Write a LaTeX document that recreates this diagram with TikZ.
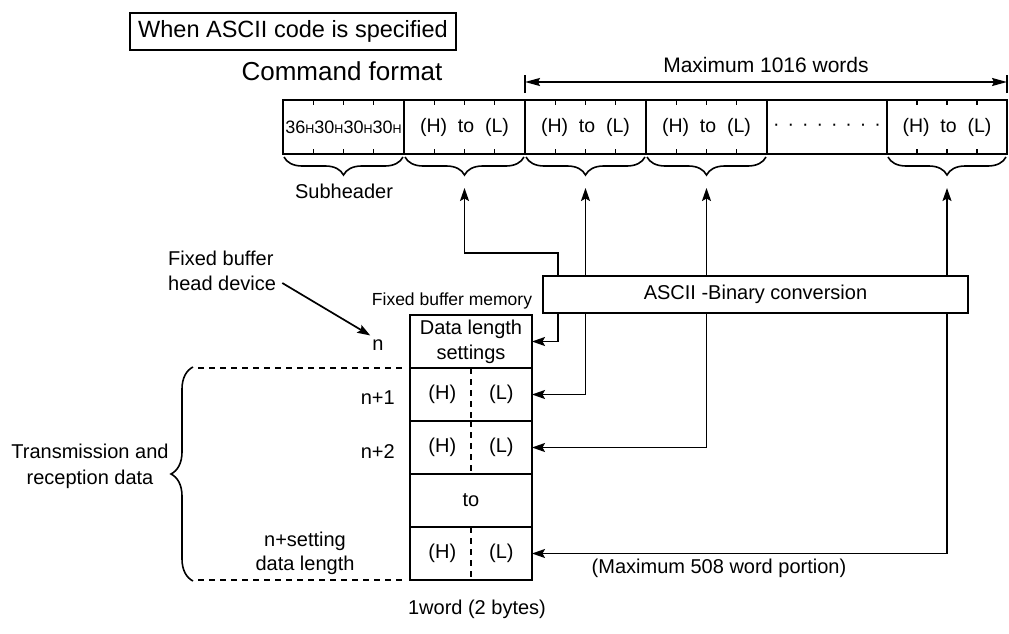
\documentclass[tikz,border=0pt]{standalone}
\usepackage{fontspec}
\setmainfont{Liberation Sans}
\usetikzlibrary{arrows.meta,decorations.pathreplacing,calc}

\newcommand{\smallH}{{\fontsize{12.5}{12}\selectfont H}}

\tikzset{
  txt/.style={font=\fontsize{20}{25}\selectfont, inner sep=0pt},
  cell/.style={draw, line width=1.7pt, minimum width=121pt, minimum height=54pt,
    inner sep=0pt, outer sep=0pt, font=\fontsize{19.5}{23}\selectfont},
  memrow/.style={draw, line width=1.7pt, minimum width=122pt, minimum height=53pt,
    inner sep=0pt, outer sep=0pt, font=\fontsize{20}{25}\selectfont},
  link/.style={line width=1.7pt,
    {Stealth[length=13pt,width=9pt,inset=2.5pt]}-{Stealth[length=13pt,width=9pt,inset=2.5pt]}},
  pointer/.style={line width=1.7pt, -{Stealth[length=13pt,width=9pt,inset=2.5pt]}},
  dimline/.style={line width=1.7pt,
    {Stealth[length=15pt,width=8pt,inset=2pt]}-{Stealth[length=15pt,width=8pt,inset=2pt]}},
  brc/.style={decorate, decoration={brace,amplitude=18pt}, line width=1.6pt},
  ext/.style={line width=1.5pt, dash pattern=on 6pt off 5pt},
}

\begin{document}
\begin{tikzpicture}[x=1pt,y=-1pt]
\useasboundingbox (0,0) rectangle (1009,634);

% heading
\node[draw, line width=1.7pt, minimum width=326pt, minimum height=37pt,
  inner sep=0pt, font=\fontsize{23.5}{28}\selectfont] (title) at (293,31.5) {When ASCII code is specified};
\node[txt, font=\fontsize{26}{30}\selectfont] (cmd) at (342,71) {Command format};

% command format
\node[cell, font=\fontsize{18}{22}\selectfont] (sub) at (343.5,127) {36\smallH 30\smallH 30\smallH 30\smallH};
\node[cell] (w1) at (464.5,127) {(H)~ to~ (L)};
\node[cell] (w2) at (585.5,127) {(H)~ to~ (L)};
\node[cell] (w3) at (706.5,127) {(H)~ to~ (L)};
\node[cell, minimum width=120pt] (dots) at (827,127) {·\hspace{8pt}·\hspace{8pt}·\hspace{8pt}·\hspace{8pt}·\hspace{8pt}·\hspace{8pt}·\hspace{8pt}·};
\node[cell, minimum width=120pt] (wn) at (947,127) {(H)~ to~ (L)};
\draw[line width=2.6pt] (sub.north west) rectangle (wn.south east);
\foreach \c in {sub,w1,w2,w3,wn}
  \foreach \f in {0.25,0.5,0.75} {
    \draw[line width=1.4pt] ($(\c.north west)!\f!(\c.north east)$) -- ++(0,5);
    \draw[line width=1.4pt] ($(\c.south west)!\f!(\c.south east)$) -- ++(0,-5);
  }

% maximum length
\draw[line width=1.6pt] ([yshift=7pt]w2.north west) -- ([yshift=25pt]w2.north west);
\draw[line width=1.6pt] ([yshift=7pt]wn.north east) -- ([yshift=25pt]wn.north east);
\draw[dimline] ([yshift=18pt]w2.north west) -- ([yshift=18pt]wn.north east);
\node[txt, font=\fontsize{21}{25}\selectfont] (maxw) at (766,65) {Maximum 1016 words};

% braces
\foreach \c in {sub,w1,w2,w3,wn}
  \draw[brc] ([xshift=-1pt,yshift=-3pt]\c.south east) -- ([xshift=1pt,yshift=-3pt]\c.south west);
\node[txt] (subl) at (344,191) {Subheader};
\coordinate (tw1) at (464.5,188);
\coordinate (tw2) at (585.5,188);
\coordinate (tw3) at (706.5,188);
\coordinate (twn) at (947,188);

% fixed buffer memory
\node[memrow, align=center] (dl) at (471,341.5) {Data length\\settings};
\node[memrow] (r1) at (471,394.5) {(H)\hspace{33pt}(L)};
\node[memrow] (r2) at (471,447.5) {(H)\hspace{33pt}(L)};
\node[memrow] (rto) at (471,500.5) {to};
\node[memrow] (rn) at (471,553.5) {(H)\hspace{33pt}(L)};
\draw[line width=2.6pt] (dl.north west) rectangle (rn.south east);
\foreach \r in {r1,r2,rn}
  \draw[ext] (\r.north) -- (\r.south);
\node[txt, font=\fontsize{17.5}{20}\selectfont] (fbm) at (452,301) {Fixed buffer memory};

% addresses
\node[txt] (nl) at (378,345) {n};
\node[txt, anchor=east] (n1) at (395,398) {n+1};
\node[txt, anchor=east] (n2) at (395,452) {n+2};
\node[txt, align=center, font=\fontsize{20}{24}\selectfont] (nlen) at (305,553) {n+setting\\data length};
\node[txt, anchor=west] (hd1) at (168,258) {Fixed buffer};
\node[txt, anchor=west] (hd2) at (168,283) {head device};
\draw[pointer] ([xshift=6pt]hd2.east) -- ([shift={(-2pt,4pt)}]nl.north west);

% data area
\draw[ext] (198,368) -- ([xshift=-5pt]r1.north west);
\draw[ext] (198,580) -- ([xshift=-5pt]rn.south west);
\draw[decorate, decoration={brace,amplitude=22pt}, line width=1.6pt] (193,581) -- (193,367);
\node[txt, align=center, font=\fontsize{20}{26}\selectfont] (trx) at (90,466) {Transmission and\\reception data};

% conversion
\draw[link] (tw1) |- (558,253) |- (dl.east);
\draw[link] (tw2) |- (r1.east);
\draw[link] (tw3) |- (r2.east);
\draw[link] (twn) |- (rn.east);
\node[txt, draw, line width=2.4pt, fill=white, minimum width=425pt, minimum height=37pt] (conv) at (755.5,294.5) {ASCII -Binary conversion};
\node[txt] (maxp) at (719,568) {(Maximum 508 word portion)};
\node[txt] (wlab) at (477,609) {1word (2 bytes)};
\end{tikzpicture}
\end{document}
